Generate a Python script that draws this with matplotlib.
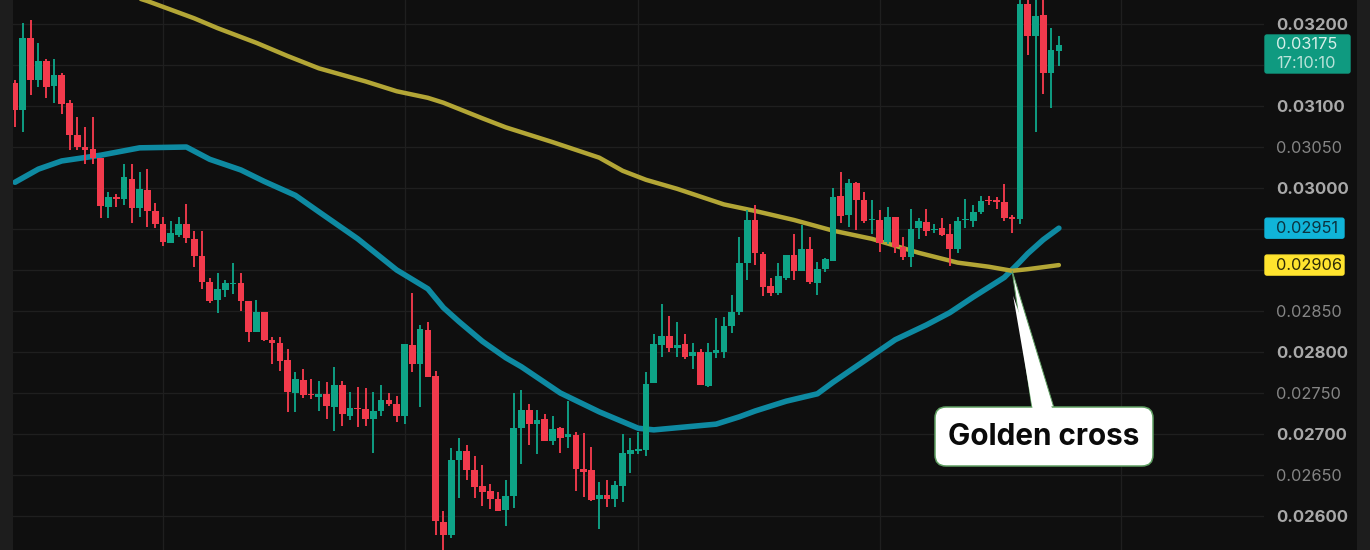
import numpy as np
import matplotlib
matplotlib.use('Agg')
import matplotlib.pyplot as plt
from matplotlib.patches import FancyBboxPatch, Polygon, Rectangle

plt.rcParams['font.family'] = ['Inter', 'DejaVu Sans']

highs = [0.03132,0.03201,0.03205,0.03177,0.03157,0.03157,0.03140,0.03107,0.03087,0.03074,
         0.03087,0.03037,0.02995,0.02993,0.03029,0.03029,0.03020,0.03023,0.02982,0.02965,
         0.02960,0.02965,0.02980,0.02948,0.02948,0.02890,0.02896,0.02888,0.02909,0.02896,
         0.02862,0.02863,0.02849,0.02818,0.02818,0.02804,0.02776,0.02779,0.02767,0.02765,
         0.02763,0.02782,0.02765,0.02751,0.02757,0.02756,0.02751,0.02760,0.02750,0.02746,
         0.02810,0.02872,0.02833,0.02837,0.02777,0.02606,0.02683,0.02695,0.02687,0.02673,
         0.02662,0.02639,0.02629,0.02644,0.02750,0.02754,0.02736,0.02729,0.02724,0.02722,
         0.02709,0.02740,0.02702,0.02701,0.02684,0.02641,0.02644,0.02643,0.02700,0.02695,
         0.02702,0.02776,0.02822,0.02859,0.02844,0.02837,0.02822,0.02811,0.02804,0.02811,
         0.02841,0.02843,0.02870,0.02940,0.02973,0.02979,0.02922,0.02890,0.02909,0.02918,
         0.02944,0.02955,0.02940,0.02910,0.02915,0.03000,0.03020,0.03011,0.03007,0.02995,
         0.02985,0.02973,0.02977,0.02965,0.02940,0.02974,0.02963,0.02974,0.02956,0.02963,
         0.02956,0.02965,0.02987,0.02979,0.02990,0.02990,0.02989,0.03005,0.02967,0.03235,
         0.03250,0.03240,0.03235,0.03195,0.03185]
lows = [0.03074,0.03068,0.03113,0.03123,0.03110,0.03104,0.03090,0.03046,0.03046,0.03029,
        0.03029,0.02963,0.02963,0.02977,0.02979,0.02957,0.02965,0.02952,0.02951,0.02929,
        0.02933,0.02940,0.02933,0.02904,0.02877,0.02860,0.02848,0.02867,0.02871,0.02850,
        0.02812,0.02824,0.02813,0.02785,0.02777,0.02727,0.02727,0.02744,0.02743,0.02728,
        0.02718,0.02704,0.02710,0.02717,0.02709,0.02710,0.02677,0.02722,0.02734,0.02715,
        0.02712,0.02776,0.02733,0.02769,0.02577,0.02555,0.02573,0.02622,0.02644,0.02622,
        0.02612,0.02609,0.02606,0.02588,0.02610,0.02663,0.02687,0.02676,0.02691,0.02687,
        0.02677,0.02683,0.02630,0.02623,0.02618,0.02584,0.02611,0.02611,0.02617,0.02652,
        0.02676,0.02673,0.02762,0.02794,0.02800,0.02794,0.02791,0.02779,0.02760,0.02757,
        0.02793,0.02793,0.02823,0.02845,0.02888,0.02906,0.02868,0.02868,0.02870,0.02888,
        0.02888,0.02899,0.02883,0.02870,0.02898,0.02911,0.02957,0.02952,0.02949,0.02957,
        0.02944,0.02922,0.02932,0.02921,0.02912,0.02904,0.02938,0.02941,0.02945,0.02941,
        0.02905,0.02921,0.02951,0.02952,0.02968,0.02979,0.02974,0.02960,0.02945,0.02956,
        0.03162,0.03068,0.03115,0.03098,0.03149]
opens = [0.03128,0.03095,0.03183,0.03132,0.03155,0.03124,0.03138,0.03104,0.03065,0.03050,
         0.03048,0.03037,0.02977,0.02989,0.02987,0.03011,0.02976,0.02998,0.02972,0.02956,
         0.02933,0.02943,0.02956,0.02938,0.02917,0.02885,0.02863,0.02876,0.02883,0.02884,
         0.02862,0.02824,0.02849,0.02815,0.02811,0.02790,0.02750,0.02766,0.02749,0.02745,
         0.02749,0.02733,0.02760,0.02722,0.02732,0.02730,0.02718,0.02728,0.02741,0.02736,
         0.02722,0.02809,0.02785,0.02827,0.02771,0.02593,0.02577,0.02668,0.02679,0.02656,
         0.02637,0.02630,0.02621,0.02607,0.02624,0.02707,0.02729,0.02712,0.02718,0.02691,
         0.02707,0.02696,0.02699,0.02657,0.02656,0.02621,0.02626,0.02621,0.02637,0.02676,
         0.02679,0.02680,0.02762,0.02809,0.02820,0.02805,0.02810,0.02795,0.02800,0.02759,
         0.02799,0.02800,0.02832,0.02849,0.02909,0.02961,0.02920,0.02880,0.02872,0.02890,
         0.02918,0.02899,0.02926,0.02884,0.02901,0.02911,0.02990,0.02967,0.03006,0.02985,
         0.02961,0.02961,0.02934,0.02965,0.02928,0.02916,0.02951,0.02959,0.02949,0.02951,
         0.02944,0.02926,0.02961,0.02960,0.02971,0.02985,0.02985,0.02983,0.02965,0.02962,
         0.03225,0.03185,0.03211,0.03140,0.03167]
closes = [0.03095,0.03183,0.03132,0.03155,0.03123,0.03138,0.03102,0.03065,0.03050,0.03046,
          0.03037,0.02978,0.02989,0.02987,0.03013,0.02976,0.02999,0.02972,0.02956,0.02934,
          0.02945,0.02956,0.02939,0.02917,0.02885,0.02862,0.02877,0.02884,0.02884,0.02862,
          0.02824,0.02849,0.02815,0.02811,0.02789,0.02751,0.02767,0.02748,0.02748,0.02749,
          0.02734,0.02760,0.02724,0.02732,0.02730,0.02718,0.02728,0.02741,0.02736,0.02722,
          0.02810,0.02785,0.02828,0.02770,0.02594,0.02577,0.02668,0.02679,0.02656,0.02635,
          0.02629,0.02621,0.02606,0.02624,0.02707,0.02729,0.02712,0.02717,0.02691,0.02706,
          0.02695,0.02700,0.02657,0.02654,0.02620,0.02626,0.02621,0.02638,0.02677,0.02680,
          0.02682,0.02761,0.02810,0.02820,0.02805,0.02809,0.02794,0.02800,0.02760,0.02800,
          0.02802,0.02832,0.02849,0.02909,0.02961,0.02921,0.02879,0.02872,0.02893,0.02918,
          0.02899,0.02926,0.02885,0.02901,0.02914,0.02989,0.02966,0.03006,0.02985,0.02960,
          0.02962,0.02933,0.02965,0.02928,0.02916,0.02950,0.02960,0.02948,0.02950,0.02943,
          0.02926,0.02960,0.02962,0.02971,0.02984,0.02984,0.02983,0.02963,0.02962,0.03225,
          0.03185,0.03210,0.03140,0.03168,0.03175]

fast_idx = [0,3,6,11,16,22,25,29,32,36,39,44,49,53,55,57,60,63,65,70,75,80,82,90,93,95,99,103,105,
            113,117,120,123,127,129,130,132,134]
fast_ma = [0.03007,0.03023,0.03033,0.03040,0.03049,0.03050,0.03035,0.03022,0.03008,0.02991,
           0.02971,0.02938,0.02900,0.02877,0.02854,0.02837,0.02813,0.02793,0.02782,0.02750,
           0.02727,0.02707,0.02705,0.02712,0.02721,0.02728,0.02740,0.02749,0.02763,
           0.02815,0.02833,0.02848,0.02867,0.02891,0.02910,0.02920,0.02937,0.02951]
slow_idx = [15,17,19,23,26,31,35,39,45,49,53,55,60,63,69,75,78,81,85,91,95,100,105,110,116,121,125,128,130,134]
slow_ma = [0.03234,0.03228,0.03221,0.03207,0.03195,0.03177,0.03161,0.03146,0.03130,0.03118,
           0.03110,0.03104,0.03085,0.03074,0.03056,0.03037,0.03021,0.03010,0.02999,0.02980,
           0.02972,0.02961,0.02948,0.02938,0.02921,0.02909,0.02904,0.02899,0.02901,0.02906]

price_ticks = [0.026,0.0265,0.027,0.0275,0.028,0.0285,0.029,0.0295,0.030,0.0305,0.031,0.0315,0.032]
tick_labels = ['0.02600','0.02650','0.02700','0.02750','0.02800','0.02850','',
               '','0.03000','0.03050','0.03100','','0.03200']
time_grid = [19,50,80,111,142]
cross_idx = 128
cross_price = 0.02899
countdown = '17:10:10'
callout_text = 'Golden cross'

W, H = 1370, 550
bg = '#0f0f0f'
up = '#0ea387'
down = '#f23a4c'

fig = plt.figure(figsize=(W/100, H/100), dpi=100, facecolor=bg)

# overlay in pixel coords, for the side strips, price tags and the callout
over = fig.add_axes([0, 0, 1, 1], zorder=3)
over.set_xlim(0, W)
over.set_ylim(H, 0)
over.axis('off')
over.patch.set_alpha(0)

ax = fig.add_axes([13/W, 0, (1264-13)/W, 1], zorder=2)
ax.set_facecolor(bg)
ax.set_xlim(-0.257, 160.33)
ax.set_ylim(0.025585, 0.032293)
for s in ax.spines.values():
    s.set_visible(False)

ax.set_xticks(time_grid)
ax.set_yticks(price_ticks)
ax.set_yticklabels(tick_labels)
ax.yaxis.tick_right()
ax.tick_params(axis='both', length=0, labelbottom=False)
ax.tick_params(axis='y', pad=8.6)
ax.grid(True, color='#1f1f1f', lw=0.9)
ax.set_axisbelow(True)
for lab, val in zip(ax.get_yticklabels(), price_ticks):
    major = round(val*1e5) % 100 == 0
    lab.set_fontweight('bold' if major else 'normal')
    lab.set_color('#a9a9a9' if major else '#858585')
    lab.set_fontsize(12 if major else 11.8)

ax.plot(fast_idx, fast_ma, color='#0e8aa2', lw=4.0, zorder=2, solid_capstyle='round', solid_joinstyle='round')
ax.plot(slow_idx, slow_ma, color='#b3a636', lw=3.2, zorder=2.1, solid_capstyle='round', solid_joinstyle='round')

idx = np.arange(len(closes))
o = np.array(opens)
c = np.array(closes)
colors = [up if cl >= op else down for op, cl in zip(o, c)]
ax.vlines(idx, lows, highs, colors=colors, lw=1.35, zorder=3)
ax.bar(idx, np.abs(c-o), bottom=np.minimum(o, c), width=0.86, color=colors, zorder=3.1)

over.add_patch(Rectangle((0, 0), 13, H, fc='#1d1d1d', ec='none'))
over.add_patch(Rectangle((1357, 0), W-1357, H, fc='#1d1d1d', ec='none'))


def to_px(i, price):
    x, y = ax.transData.transform((i, price))
    return x, H - y


def tag(price, fc, tc):
    y = to_px(0, price)[1]
    over.add_patch(FancyBboxPatch((1265, y-10), 79, 20, boxstyle='round,pad=0,rounding_size=2',
                                  fc=fc, ec=fc, lw=1))
    over.text(1276, y, f'{price:.5f}', color=tc, fontsize=11.8, va='center', ha='left')


# last price tag with countdown
last = closes[-1]
ylast = to_px(0, last)[1]
over.add_patch(FancyBboxPatch((1265, 35), 85, 38, boxstyle='round,pad=0,rounding_size=2',
                              fc='#0f9a80', ec='#0f9a80', lw=1))
over.text(1276, ylast, f'{last:.5f}', color='#d6efe9', fontsize=11.8, va='center', ha='left')
over.text(1276, ylast+18.5, countdown, color='#b9e2d9', fontsize=11.8, va='center', ha='left')
tag(fast_ma[-1], '#10b4d8', '#0b3340')
tag(slow_ma[-1], '#ffe42e', '#2d2a08')

# callout
tipx, tipy = to_px(cross_idx, cross_price)
edge = '#5f9f62'
over.add_patch(Polygon([(tipx, tipy), (1032, 408), (1054, 408)], closed=True, fc='white', ec=edge, lw=0.7, zorder=4))
over.add_patch(FancyBboxPatch((941, 413), 206, 47, boxstyle='round,pad=6,rounding_size=11',
                              fc='white', ec=edge, lw=1.1, zorder=4.1))
over.add_patch(Polygon([(tipx+1, tipy+25), (1033, 411), (1053, 411)], closed=True, fc='white', ec='none', zorder=4.2))
over.text(1044, 437, callout_text, color='#0a0a0a', fontsize=21.4, fontweight='bold',
          ha='center', va='center', zorder=5)

fig.savefig('out.png', dpi=100, facecolor=bg)
